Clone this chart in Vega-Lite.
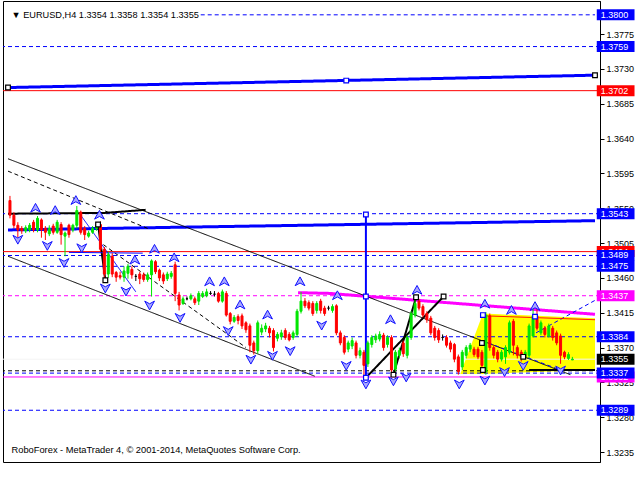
{
"$schema":"https://vega.github.io/schema/vega-lite/v6.json",
"width":597,"height":461,
"autosize":{"type":"none"},
"padding":{"left":3,"top":1,"right":40,"bottom":18},
"background":"white",
"config":{"view":{"stroke":"black","strokeWidth":1},"font":"Liberation Sans",
 "axis":{"labelFont":"Liberation Sans","labelFontSize":9,"labelColor":"black","domainColor":"black","tickColor":"black","grid":false,"title":null}},
"datasets":{
"candles":[
{"i":0,"o":1.3560,"h":1.3566,"l":1.3537,"c":1.3541},{"i":1,"o":1.3541,"h":1.3545,"l":1.3524,"c":1.3528},{"i":2,"o":1.3528,"h":1.3532,"l":1.3512,"c":1.3522},{"i":3,"o":1.3524,"h":1.3527,"l":1.3517,"c":1.3521},{"i":4,"o":1.3521,"h":1.3528,"l":1.3518,"c":1.3525},{"i":5,"o":1.3522,"h":1.3531,"l":1.3519,"c":1.3528},{"i":6,"o":1.3532,"h":1.3535,"l":1.3519,"c":1.3522},{"i":7,"o":1.3522,"h":1.3540,"l":1.3519,"c":1.3537},{"i":8,"o":1.3535,"h":1.3537,"l":1.3512,"c":1.3522},{"i":9,"o":1.3524,"h":1.3527,"l":1.3509,"c":1.3519},
{"i":10,"o":1.3517,"h":1.3528,"l":1.3514,"c":1.3524},{"i":11,"o":1.3527,"h":1.3530,"l":1.3516,"c":1.3519},{"i":12,"o":1.3519,"h":1.3535,"l":1.3517,"c":1.3532},{"i":13,"o":1.3529,"h":1.3532,"l":1.3503,"c":1.3516},{"i":14,"o":1.3514,"h":1.3520,"l":1.3488,"c":1.3518},{"i":15,"o":1.3528,"h":1.3530,"l":1.3512,"c":1.3516},{"i":16,"o":1.3522,"h":1.3530,"l":1.3519,"c":1.3528},{"i":17,"o":1.3528,"h":1.3553,"l":1.3524,"c":1.3547},{"i":18,"o":1.3545,"h":1.3547,"l":1.3516,"c":1.3519},{"i":19,"o":1.3524,"h":1.3527,"l":1.3509,"c":1.3516},
{"i":20,"o":1.3514,"h":1.3521,"l":1.3512,"c":1.3518},{"i":21,"o":1.3519,"h":1.3527,"l":1.3517,"c":1.3524},{"i":22,"o":1.3524,"h":1.3531,"l":1.3521,"c":1.3528},{"i":23,"o":1.3529,"h":1.3533,"l":1.3494,"c":1.3497},{"i":24,"o":1.3497,"h":1.3500,"l":1.3456,"c":1.3465},{"i":25,"o":1.3465,"h":1.3494,"l":1.3460,"c":1.3490},{"i":26,"o":1.3488,"h":1.3492,"l":1.3461,"c":1.3465},{"i":27,"o":1.3467,"h":1.3469,"l":1.3455,"c":1.3461},{"i":28,"o":1.3463,"h":1.3468,"l":1.3458,"c":1.3461},{"i":29,"o":1.3461,"h":1.3475,"l":1.3455,"c":1.3469},
{"i":30,"o":1.3466,"h":1.3478,"l":1.3459,"c":1.3475},{"i":31,"o":1.3471,"h":1.3475,"l":1.3459,"c":1.3464},{"i":32,"o":1.3462,"h":1.3465,"l":1.3456,"c":1.3462},{"i":33,"o":1.3465,"h":1.3468,"l":1.3452,"c":1.3459},{"i":34,"o":1.3464,"h":1.3467,"l":1.3455,"c":1.3458},{"i":35,"o":1.3458,"h":1.3467,"l":1.3455,"c":1.3464},{"i":36,"o":1.3464,"h":1.3484,"l":1.3436,"c":1.3482},{"i":37,"o":1.3481,"h":1.3483,"l":1.3465,"c":1.3468},{"i":38,"o":1.3470,"h":1.3472,"l":1.3456,"c":1.3460},{"i":39,"o":1.3464,"h":1.3467,"l":1.3452,"c":1.3456},
{"i":40,"o":1.3459,"h":1.3468,"l":1.3456,"c":1.3465},{"i":41,"o":1.3462,"h":1.3469,"l":1.3459,"c":1.3466},{"i":42,"o":1.3477,"h":1.3481,"l":1.3430,"c":1.3440},{"i":43,"o":1.3438,"h":1.3442,"l":1.3418,"c":1.3425},{"i":44,"o":1.3427,"h":1.3436,"l":1.3425,"c":1.3433},{"i":45,"o":1.3433,"h":1.3436,"l":1.3431,"c":1.3433},{"i":46,"o":1.3433,"h":1.3440,"l":1.3431,"c":1.3437},{"i":47,"o":1.3433,"h":1.3436,"l":1.3425,"c":1.3428},{"i":48,"o":1.3430,"h":1.3443,"l":1.3425,"c":1.3440},{"i":49,"o":1.3436,"h":1.3443,"l":1.3434,"c":1.3440},
{"i":50,"o":1.3437,"h":1.3446,"l":1.3435,"c":1.3442},{"i":51,"o":1.3440,"h":1.3443,"l":1.3438,"c":1.3440},{"i":52,"o":1.3439,"h":1.3443,"l":1.3436,"c":1.3439},{"i":53,"o":1.3440,"h":1.3442,"l":1.3428,"c":1.3430},{"i":54,"o":1.3430,"h":1.3445,"l":1.3428,"c":1.3442},{"i":55,"o":1.3440,"h":1.3443,"l":1.3410,"c":1.3412},{"i":56,"o":1.3414,"h":1.3416,"l":1.3400,"c":1.3404},{"i":57,"o":1.3404,"h":1.3412,"l":1.3402,"c":1.3409},{"i":58,"o":1.3410,"h":1.3413,"l":1.3400,"c":1.3405},{"i":59,"o":1.3411,"h":1.3414,"l":1.3394,"c":1.3398},
{"i":60,"o":1.3402,"h":1.3404,"l":1.3389,"c":1.3393},{"i":61,"o":1.3398,"h":1.3401,"l":1.3364,"c":1.3373},{"i":62,"o":1.3376,"h":1.3379,"l":1.3361,"c":1.3366},{"i":63,"o":1.3366,"h":1.3405,"l":1.3362,"c":1.3402},{"i":64,"o":1.3390,"h":1.3400,"l":1.3386,"c":1.3395},{"i":65,"o":1.3394,"h":1.3402,"l":1.3390,"c":1.3398},{"i":66,"o":1.3395,"h":1.3398,"l":1.3383,"c":1.3389},{"i":67,"o":1.3392,"h":1.3395,"l":1.3365,"c":1.3370},{"i":68,"o":1.3382,"h":1.3390,"l":1.3378,"c":1.3387},{"i":69,"o":1.3384,"h":1.3393,"l":1.3380,"c":1.3389},
{"i":70,"o":1.3392,"h":1.3395,"l":1.3380,"c":1.3383},{"i":71,"o":1.3387,"h":1.3390,"l":1.3378,"c":1.3380},{"i":72,"o":1.3383,"h":1.3392,"l":1.3380,"c":1.3389},{"i":73,"o":1.3387,"h":1.3420,"l":1.3384,"c":1.3417},{"i":74,"o":1.3417,"h":1.3442,"l":1.3414,"c":1.3430},{"i":75,"o":1.3430,"h":1.3434,"l":1.3421,"c":1.3424},{"i":76,"o":1.3428,"h":1.3431,"l":1.3418,"c":1.3421},{"i":77,"o":1.3427,"h":1.3430,"l":1.3411,"c":1.3414},{"i":78,"o":1.3418,"h":1.3430,"l":1.3414,"c":1.3427},{"i":79,"o":1.3430,"h":1.3433,"l":1.3414,"c":1.3418},
{"i":80,"o":1.3421,"h":1.3424,"l":1.3411,"c":1.3414},{"i":81,"o":1.3421,"h":1.3424,"l":1.3418,"c":1.3421},{"i":82,"o":1.3418,"h":1.3426,"l":1.3415,"c":1.3423},{"i":83,"o":1.3424,"h":1.3426,"l":1.3386,"c":1.3389},{"i":84,"o":1.3389,"h":1.3392,"l":1.3373,"c":1.3376},{"i":85,"o":1.3383,"h":1.3386,"l":1.3361,"c":1.3364},{"i":86,"o":1.3368,"h":1.3379,"l":1.3364,"c":1.3376},{"i":87,"o":1.3372,"h":1.3383,"l":1.3368,"c":1.3379},{"i":88,"o":1.3376,"h":1.3379,"l":1.3356,"c":1.3360},{"i":89,"o":1.3360,"h":1.3370,"l":1.3356,"c":1.3366},
{"i":90,"o":1.3364,"h":1.3367,"l":1.3332,"c":1.3347},{"i":91,"o":1.3349,"h":1.3379,"l":1.3345,"c":1.3376},{"i":92,"o":1.3374,"h":1.3386,"l":1.3370,"c":1.3383},{"i":93,"o":1.3380,"h":1.3388,"l":1.3376,"c":1.3385},{"i":94,"o":1.3381,"h":1.3391,"l":1.3378,"c":1.3387},{"i":95,"o":1.3386,"h":1.3389,"l":1.3366,"c":1.3370},{"i":96,"o":1.3374,"h":1.3386,"l":1.3370,"c":1.3383},{"i":97,"o":1.3383,"h":1.3386,"l":1.3335,"c":1.3341},{"i":98,"o":1.3342,"h":1.3367,"l":1.3339,"c":1.3364},{"i":99,"o":1.3360,"h":1.3370,"l":1.3356,"c":1.3366},
{"i":100,"o":1.3376,"h":1.3379,"l":1.3358,"c":1.3362},{"i":101,"o":1.3360,"h":1.3386,"l":1.3356,"c":1.3383},{"i":102,"o":1.3383,"h":1.3417,"l":1.3380,"c":1.3414},{"i":103,"o":1.3412,"h":1.3436,"l":1.3409,"c":1.3427},{"i":104,"o":1.3430,"h":1.3433,"l":1.3418,"c":1.3421},{"i":105,"o":1.3423,"h":1.3426,"l":1.3409,"c":1.3412},{"i":106,"o":1.3414,"h":1.3417,"l":1.3402,"c":1.3406},{"i":107,"o":1.3408,"h":1.3411,"l":1.3386,"c":1.3389},{"i":108,"o":1.3395,"h":1.3398,"l":1.3379,"c":1.3383},{"i":109,"o":1.3392,"h":1.3395,"l":1.3376,"c":1.3380},
{"i":110,"o":1.3383,"h":1.3387,"l":1.3379,"c":1.3383},{"i":111,"o":1.3383,"h":1.3386,"l":1.3370,"c":1.3373},{"i":112,"o":1.3376,"h":1.3379,"l":1.3364,"c":1.3368},{"i":113,"o":1.3374,"h":1.3376,"l":1.3351,"c":1.3355},{"i":114,"o":1.3358,"h":1.3361,"l":1.3335,"c":1.3339},{"i":115,"o":1.3345,"h":1.3367,"l":1.3341,"c":1.3364},{"i":116,"o":1.3360,"h":1.3373,"l":1.3356,"c":1.3370},{"i":117,"o":1.3368,"h":1.3376,"l":1.3364,"c":1.3373},{"i":118,"o":1.3368,"h":1.3371,"l":1.3358,"c":1.3361},{"i":119,"o":1.3368,"h":1.3371,"l":1.3355,"c":1.3358},
{"i":120,"o":1.3364,"h":1.3367,"l":1.3337,"c":1.3347},{"i":121,"o":1.3339,"h":1.3416,"l":1.3335,"c":1.3412},{"i":122,"o":1.3411,"h":1.3414,"l":1.3366,"c":1.3370},{"i":123,"o":1.3370,"h":1.3373,"l":1.3356,"c":1.3360},{"i":124,"o":1.3364,"h":1.3367,"l":1.3351,"c":1.3355},{"i":125,"o":1.3355,"h":1.3367,"l":1.3352,"c":1.3364},{"i":126,"o":1.3358,"h":1.3373,"l":1.3349,"c":1.3370},{"i":127,"o":1.3364,"h":1.3405,"l":1.3361,"c":1.3402},{"i":128,"o":1.3404,"h":1.3407,"l":1.3360,"c":1.3373},{"i":129,"o":1.3370,"h":1.3373,"l":1.3356,"c":1.3360},
{"i":130,"o":1.3364,"h":1.3367,"l":1.3352,"c":1.3358},{"i":131,"o":1.3358,"h":1.3367,"l":1.3355,"c":1.3364},{"i":132,"o":1.3360,"h":1.3401,"l":1.3356,"c":1.3398},{"i":133,"o":1.3385,"h":1.3420,"l":1.3383,"c":1.3411},{"i":134,"o":1.3411,"h":1.3425,"l":1.3392,"c":1.3395},{"i":135,"o":1.3389,"h":1.3405,"l":1.3386,"c":1.3402},{"i":136,"o":1.3395,"h":1.3398,"l":1.3383,"c":1.3387},{"i":137,"o":1.3385,"h":1.3401,"l":1.3383,"c":1.3398},{"i":138,"o":1.3395,"h":1.3398,"l":1.3379,"c":1.3383},{"i":139,"o":1.3389,"h":1.3392,"l":1.3373,"c":1.3376},
{"i":140,"o":1.3385,"h":1.3388,"l":1.3349,"c":1.3360},{"i":141,"o":1.3364,"h":1.3366,"l":1.3355,"c":1.3358},{"i":142,"o":1.3356,"h":1.3364,"l":1.3354,"c":1.3361},{"i":143,"o":1.3354,"h":1.3358,"l":1.3354,"c":1.3355}
],
"levels":[
{"p":1.3759,"kind":"level"},{"p":1.3702,"kind":"stop"},{"p":1.3543,"kind":"level"},{"p":1.3494,"kind":"stop"},{"p":1.3489,"kind":"level"},{"p":1.3475,"kind":"level"},{"p":1.3437,"kind":"pivot"},{"p":1.3384,"kind":"level"},{"p":1.3340,"kind":"mid"},{"p":1.3337,"kind":"level"},{"p":1.3332,"kind":"base"},{"p":1.3289,"kind":"level"}
],
"tags":[
{"p":1.3702,"kind":"stop"},{"p":1.3494,"kind":"stop"},{"p":1.3437,"kind":"pivot"},{"p":1.3332,"kind":"base"},
{"p":1.3800,"kind":"level"},{"p":1.3759,"kind":"level"},{"p":1.3543,"kind":"level"},{"p":1.3489,"kind":"level"},{"p":1.3475,"kind":"level"},{"p":1.3384,"kind":"level"},{"p":1.3355,"kind":"bid"},{"p":1.3337,"kind":"level"},{"p":1.3289,"kind":"level"}
],
"notes":[
{"i":0.4,"p":1.3800,"t":"▼ EURUSD,H4  1.3354 1.3358 1.3354 1.3355","kind":"title"},
{"i":0.4,"p":1.32374,"t":"RoboForex - MetaTrader 4, © 2001-2014, MetaQuotes Software Corp.","kind":"foot"}
],
"segs":[
{"seg":"a1","kind":"dash","i":48.5,"p":1.3800},{"seg":"a1","kind":"dash","i":148.75,"p":1.3800},
{"seg":"t1","kind":"trend","i":-0.5,"p":1.3706},{"seg":"t1","kind":"trend","i":148.75,"p":1.3722},
{"seg":"t2","kind":"trend","i":-0.5,"p":1.3522},{"seg":"t2","kind":"trend","i":148.75,"p":1.3534},
{"seg":"v1","kind":"vert","i":90.5,"p":1.3543},{"seg":"v1","kind":"vert","i":90.5,"p":1.3331},
{"seg":"m1","kind":"tri","i":73.25,"p":1.3441},{"seg":"m1","kind":"tri","i":81.25,"p":1.3440},{"seg":"m1","kind":"tri","i":148.75,"p":1.3413},
{"seg":"z0","kind":"zig","i":-0.5,"p":1.3543},{"seg":"z0","kind":"zig","i":24,"p":1.3544},{"seg":"z0","kind":"zig","i":34.5,"p":1.3548},
{"seg":"z1","kind":"zig","i":22.4,"p":1.3529},{"seg":"z1","kind":"zig","i":24.25,"p":1.3457},
{"seg":"z2","kind":"zig","i":90.5,"p":1.3331},{"seg":"z2","kind":"zig","i":110.25,"p":1.3436},
{"seg":"z3","kind":"zig","i":97.5,"p":1.3335},{"seg":"z3","kind":"zig","i":103.25,"p":1.3435},
{"seg":"z4","kind":"zig","i":132,"p":1.3341},{"seg":"z4","kind":"zig","i":148.75,"p":1.3341},
{"seg":"c1","kind":"chan","i":-0.5,"p":1.3614},{"seg":"c1","kind":"chan","i":142.5,"p":1.3335},
{"seg":"c2","kind":"chan","i":-0.5,"p":1.3488},{"seg":"c2","kind":"chan","i":77.5,"p":1.3333},
{"seg":"d1","kind":"cdash","i":-0.5,"p":1.3598},{"seg":"d1","kind":"cdash","i":35,"p":1.3524},
{"seg":"d2","kind":"cdash","i":23.75,"p":1.3503},{"seg":"d2","kind":"cdash","i":60,"p":1.3370},
{"seg":"b1","kind":"thin","i":18,"p":1.3541},{"seg":"b1","kind":"thin","i":32,"p":1.3442},
{"seg":"b2","kind":"thin","i":15,"p":1.3493},{"seg":"b2","kind":"thin","i":33.75,"p":1.3492},
{"seg":"f1","kind":"fdash","i":133.75,"p":1.3389},{"seg":"f1","kind":"fdash","i":148.75,"p":1.3431},
{"seg":"f2","kind":"fdash","i":120,"p":1.3379},{"seg":"f2","kind":"fdash","i":140,"p":1.3341},
{"seg":"r1","kind":"box","i":120.75,"p":1.3411},{"seg":"r1","kind":"box","i":148.75,"p":1.3406}
],
"anchors":[
{"i":-0.5,"p":1.3706,"kind":"pt"},{"i":85.5,"p":1.3715,"kind":"obj"},{"i":148.75,"p":1.3722,"kind":"pt"},
{"i":90.5,"p":1.3542,"kind":"obj"},{"i":90.5,"p":1.3436,"kind":"obj"},{"i":90.5,"p":1.3331,"kind":"obj"},
{"i":22.4,"p":1.3529,"kind":"pt"},{"i":24.25,"p":1.3457,"kind":"pt"},{"i":103.25,"p":1.3435,"kind":"pt"},{"i":110.25,"p":1.3436,"kind":"pt"},{"i":97.5,"p":1.3335,"kind":"pt"},
{"i":120.25,"p":1.3412,"kind":"obj"},{"i":120,"p":1.3376,"kind":"pt"},{"i":120.25,"p":1.3341,"kind":"pt"},{"i":130.5,"p":1.3358,"kind":"pt"},{"i":133.5,"p":1.3410,"kind":"obj"}
],
"arrows":[
{"i":6.5,"p":1.3550,"dir":"up"},{"i":11.5,"p":1.3547,"dir":"up"},{"i":16.75,"p":1.3560,"dir":"up"},{"i":22.75,"p":1.3541,"dir":"up"},{"i":31.75,"p":1.3483,"dir":"up"},{"i":36.75,"p":1.3497,"dir":"up"},{"i":41.75,"p":1.3486,"dir":"up"},{"i":50.75,"p":1.3455,"dir":"up"},{"i":54.5,"p":1.3455,"dir":"up"},{"i":58.5,"p":1.3425,"dir":"up"},{"i":65.5,"p":1.3412,"dir":"up"},{"i":73.75,"p":1.3455,"dir":"up"},{"i":83.25,"p":1.3437,"dir":"up"},{"i":96.75,"p":1.3406,"dir":"up"},{"i":103.5,"p":1.3444,"dir":"up"},{"i":120.75,"p":1.3426,"dir":"up"},{"i":127.5,"p":1.3418,"dir":"up"},{"i":133.5,"p":1.3423,"dir":"up"},
{"i":2,"p":1.3510,"dir":"dn"},{"i":9.5,"p":1.3502,"dir":"dn"},{"i":18.25,"p":1.3499,"dir":"dn"},{"i":13.75,"p":1.3480,"dir":"dn"},{"i":24.25,"p":1.3447,"dir":"dn"},{"i":29.5,"p":1.3443,"dir":"dn"},{"i":35.5,"p":1.3425,"dir":"dn"},{"i":43.25,"p":1.3409,"dir":"dn"},{"i":55.5,"p":1.3392,"dir":"dn"},{"i":61.25,"p":1.3355,"dir":"dn"},{"i":66.75,"p":1.3360,"dir":"dn"},{"i":71.25,"p":1.3366,"dir":"dn"},{"i":79.25,"p":1.3399,"dir":"dn"},{"i":85.5,"p":1.3347,"dir":"dn"},{"i":90.5,"p":1.3323,"dir":"dn"},{"i":97.5,"p":1.3327,"dir":"dn"},{"i":100.75,"p":1.3332,"dir":"dn"},{"i":114.25,"p":1.3323,"dir":"dn"},{"i":120.75,"p":1.3328,"dir":"dn"},{"i":125.75,"p":1.3339,"dir":"dn"},{"i":130.5,"p":1.3347,"dir":"dn"},{"i":140,"p":1.3341,"dir":"dn"}
],
"tri":[
{"i":114.5,"top":1.3336,"bot":1.3336},{"i":120.25,"top":1.3414,"bot":1.3336},{"i":148.75,"top":1.3408,"bot":1.3341}
]
},
"encoding":{
"y":{"field":"p","type":"quantitative","scale":{"domain":[1.32286,1.38114],"nice":false,"zero":false},
 "axis":{"orient":"right","values":[1.3775,1.3730,1.3685,1.3640,1.3595,1.3550,1.3505,1.3460,1.3415,1.3370,1.3325,1.3280,1.3235],"format":".4f","tickSize":4,"labelPadding":2,"labelOverlap":false,"labelBound":false}}
},
"layer":[
{"data":{"name":"tri"},"mark":{"type":"area","color":"#ffff00","opacity":1},
 "encoding":{
  "x":{"field":"i","type":"quantitative","scale":{"domain":[-0.5,148.75],"nice":false,"zero":false},
   "axis":{"orient":"bottom","values":[-0.5,15.5,31.5,47.5,63.5,79.5,95.5,111.5,127.5],"labelAlign":"left","labelFlush":false,"labelOverlap":false,"tickSize":4,"labelPadding":1,
   "labelExpr":"['16 Jul 2014','21 Jul 00:00','23 Jul 16:00','28 Jul 08:00','31 Jul 00:00','4 Aug 16:00','7 Aug 08:00','12 Aug 00:00','14 Aug 16:00'][round((datum.value+0.5)/16)]"}},
  "y":{"field":"top","type":"quantitative"},"y2":{"field":"bot"}}},
{"data":{"name":"levels"},"mark":{"type":"rule","strokeWidth":1},
 "encoding":{
  "color":{"condition":[{"test":"datum.kind=='stop'","value":"#ff0000"},{"test":"datum.kind=='pivot'||datum.kind=='base'","value":"#ff00ff"},{"test":"datum.kind=='mid'","value":"#000000"}],"value":"#0000ff"},
  "strokeDash":{"condition":{"test":"datum.kind=='stop'||datum.kind=='base'","value":[1,0]},"value":[4,3]},
  "strokeWidth":{"condition":{"test":"datum.kind=='base'","value":2},"value":1}}},
{"data":{"values":[{"p":1.3355}]},"mark":{"type":"rule","color":"#f4f4f4","strokeWidth":1},"encoding":{}},
{"data":{"name":"segs"},"mark":{"type":"line","interpolate":"linear"},
 "encoding":{"x":{"field":"i","type":"quantitative","scale":{"domain":[-0.5,148.75],"nice":false,"zero":false},"axis":null},
  "detail":{"field":"seg"},
  "color":{"condition":[{"test":"datum.kind=='zig'||datum.kind=='chan'||datum.kind=='cdash'","value":"#000000"},{"test":"datum.kind=='tri'","value":"#ff00ff"},{"test":"datum.kind=='box'","value":"#ff0000"}],"value":"#0000ff"},
  "strokeWidth":{"condition":[{"test":"datum.kind=='trend'||datum.kind=='tri'","value":3},{"test":"datum.kind=='zig'||datum.kind=='vert'","value":2}],"value":1},
  "strokeDash":{"condition":{"test":"datum.kind=='dash'||datum.kind=='fdash'||datum.kind=='cdash'","value":[4,3]},"value":[1,0]}}},
{"data":{"name":"candles"},"mark":{"type":"rule","strokeWidth":1},
 "encoding":{"x":{"field":"i","type":"quantitative","scale":{"domain":[-0.5,148.75],"nice":false,"zero":false},"axis":null},
  "y":{"field":"l","type":"quantitative"},"y2":{"field":"h"},
  "color":{"condition":[{"test":"datum.c>datum.o","value":"#00e600"},{"test":"datum.c<datum.o","value":"#ff0000"}],"value":"#000000"}}},
{"data":{"name":"candles"},"mark":{"type":"bar","width":2,"strokeWidth":1},
 "encoding":{"x":{"field":"i","type":"quantitative","scale":{"domain":[-0.5,148.75],"nice":false,"zero":false},"axis":null},
  "y":{"field":"o","type":"quantitative"},"y2":{"field":"c"},
  "fill":{"condition":[{"test":"datum.c>datum.o","value":"#00e600"},{"test":"datum.c<datum.o","value":"#ff0000"}],"value":"#000000"},
  "stroke":{"condition":[{"test":"datum.c>datum.o","value":"#00e600"},{"test":"datum.c<datum.o","value":"#ff0000"}],"value":"#000000"}}},
{"data":{"name":"arrows"},"mark":{"type":"point","filled":true,"size":95,"fill":"#a8a8ff","stroke":"#1010ff","strokeWidth":1,"opacity":1},
 "encoding":{"x":{"field":"i","type":"quantitative","scale":{"domain":[-0.5,148.75],"nice":false,"zero":false},"axis":null},
  "shape":{"condition":{"test":"datum.dir=='up'","value":"M0,-1L1,0.8L0,0.25L-1,0.8Z"},"value":"M0,1L1,-0.8L0,-0.25L-1,-0.8Z"}}},
{"data":{"name":"anchors"},"mark":{"type":"point","shape":"square","size":22,"filled":false,"fill":"white","fillOpacity":1,"strokeWidth":1.2,"opacity":1},
 "encoding":{"x":{"field":"i","type":"quantitative","scale":{"domain":[-0.5,148.75],"nice":false,"zero":false},"axis":null},
  "stroke":{"condition":{"test":"datum.kind=='obj'","value":"#0000ff"},"value":"#000000"}}},
{"data":{"name":"notes"},"mark":{"type":"text","align":"left","baseline":"middle","font":"Liberation Sans","fill":"#000000"},
 "encoding":{"x":{"field":"i","type":"quantitative","scale":{"domain":[-0.5,148.75],"nice":false,"zero":false},"axis":null},
  "text":{"field":"t","type":"nominal"},"size":{"condition":{"test":"datum.kind=='title'","value":9.2},"value":9.3}}},
{"data":{"name":"tags"},"transform":[{"filter":"datum.kind=='stop'||datum.kind=='pivot'||datum.kind=='base'"}],
 "mark":{"type":"bar","height":11,"orient":"horizontal","clip":false},
 "encoding":{"x":{"datum":149.2,"type":"quantitative","axis":null},"x2":{"datum":158.8},
  "fill":{"condition":{"test":"datum.kind=='stop'","value":"#ff0000"},"value":"#ff00ff"}}},
{"data":{"name":"tags"},"transform":[{"filter":"datum.kind=='stop'||datum.kind=='pivot'||datum.kind=='base'"}],
 "mark":{"type":"text","align":"left","baseline":"middle","font":"Liberation Sans","fontSize":9,"fill":"white","clip":false},
 "encoding":{"x":{"datum":150.2,"type":"quantitative","axis":null},"text":{"field":"p","type":"quantitative","format":".4f"}}},
{"data":{"name":"tags"},"transform":[{"filter":"datum.kind=='level'||datum.kind=='bid'"}],
 "mark":{"type":"bar","height":11,"orient":"horizontal","clip":false},
 "encoding":{"x":{"datum":149.2,"type":"quantitative","axis":null},"x2":{"datum":158.8},
  "fill":{"condition":{"test":"datum.kind=='bid'","value":"#000000"},"value":"#0000ff"}}},
{"data":{"name":"tags"},"transform":[{"filter":"datum.kind=='level'||datum.kind=='bid'"}],
 "mark":{"type":"text","align":"left","baseline":"middle","font":"Liberation Sans","fontSize":9,"fill":"white","clip":false},
 "encoding":{"x":{"datum":150.2,"type":"quantitative","axis":null},"text":{"field":"p","type":"quantitative","format":".4f"}}}
]
}
